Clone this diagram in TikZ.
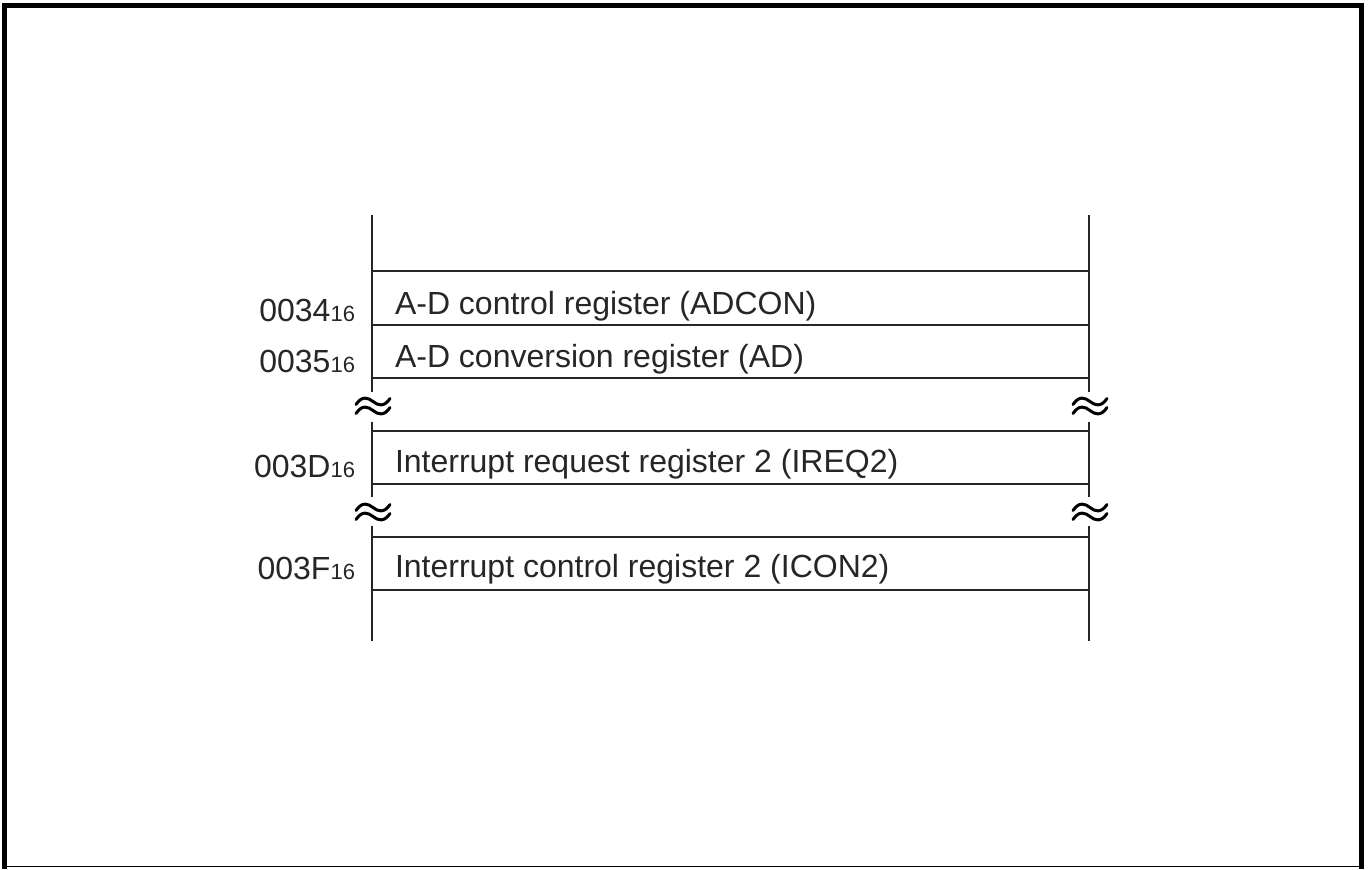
\documentclass[tikz,border=0pt]{standalone}
\usepackage{fontspec}
\setmainfont{Liberation Sans}
\begin{document}
\begin{tikzpicture}[x=0.5pt,y=-0.5pt,line width=1pt,
  reg/.style={anchor=base west,inner sep=0pt,font=\fontsize{16pt}{19pt}\selectfont,text=black!85},
  addr/.style={anchor=base east,inner sep=0pt,font=\fontsize{16pt}{19pt}\selectfont,text=black!85},
  wall/.style={line width=1pt,draw=black!85},
  tld/.style={line width=1.5pt,line cap=round},
  brk/.pic={
    \draw[tld] (-17,-1.5) .. controls (-11,-10.5) and (-5,-8.5) .. (0,-4.5) .. controls (5,-0.5) and (11,1.5) .. (17,-7.5);
    \draw[tld] (-17,7.5) .. controls (-11,-1.5) and (-5,0.5) .. (0,4.5) .. controls (5,8.5) and (11,10.5) .. (17,1.5);
  }]
\useasboundingbox (0,0) rectangle (1370,869);
% frame
\draw[line width=2.5pt] (4.5,869) -- (4.5,5.5) -- (1361.5,5.5) -- (1361.5,869);
\draw[line width=0.8pt] (4.5,866.5) -- (1361.5,866.5);
% vertical walls
\foreach \s/\x in {L/372,R/1089}{
  \coordinate (\s a) at (\x,215);
  \coordinate (\s b) at (\x,392);
  \coordinate (\s c) at (\x,422);
  \coordinate (\s d) at (\x,497);
  \coordinate (\s e) at (\x,526);
  \coordinate (\s f) at (\x,641);
  \draw[wall] (\s a) -- (\s b);
  \draw[wall] (\s c) -- (\s d);
  \draw[wall] (\s e) -- (\s f);
}
% horizontal lines
\foreach \i/\y in {1/271,2/325,3/378,4/431,5/484,6/537,7/590}{
  \coordinate (hl\i) at (372,\y);
  \coordinate (hr\i) at (1089,\y);
  \draw[wall] (hl\i) -- (hr\i);
}
% break marks
\pic at (373,406) {brk};
\pic at (1090,406) {brk};
\pic at (373,512) {brk};
\pic at (1090,512) {brk};
% texts
\node[reg] (r1) at (394,314) {A-D control register (ADCON)};
\node[addr] (a1) at (356,321) {0034{\fontsize{11pt}{13pt}\selectfont 16}};
\node[reg] (r2) at (394,367) {A-D conversion register (AD)};
\node[addr] (a2) at (356,372) {0035{\fontsize{11pt}{13pt}\selectfont 16}};
\node[reg] (r3) at (394,472) {Interrupt request register 2 (IREQ2)};
\node[addr] (a3) at (356,477) {003D{\fontsize{11pt}{13pt}\selectfont 16}};
\node[reg] (r4) at (394,577) {Interrupt control register 2 (ICON2)};
\node[addr] (a4) at (356,579) {003F{\fontsize{11pt}{13pt}\selectfont 16}};
\end{tikzpicture}
\end{document}
